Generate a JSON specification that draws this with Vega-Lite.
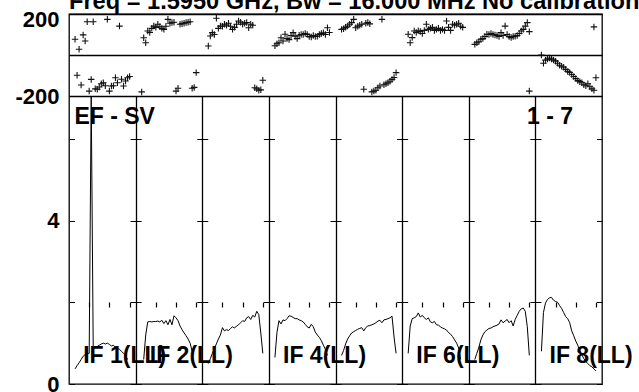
{
  "$schema": "https://vega.github.io/schema/vega-lite/v6.json",
  "background": "white",
  "padding": {"left": 14, "top": -10, "right": 0, "bottom": 0},
  "title": {"text": "Freq = 1.5950 GHz, Bw = 16.000 MHz  No calibration", "anchor": "start", "frame": "group", "font": "Liberation Sans", "fontSize": 23.6, "fontWeight": "bold", "color": "black", "offset": -6},
  "width": 533,
  "height": 370,
  "datasets": {
    "phase": [
      {"x":3,"ph":77},{"x":4,"ph":-99},{"x":5,"ph":28},{"x":6,"ph":-146},{"x":7,"ph":98},{"x":8,"ph":68},{"x":9,"ph":162},{"x":10,"ph":-176},{"x":11,"ph":-119},{"x":12,"ph":162},{"x":13,"ph":-165},{"x":14,"ph":-167},{"x":15,"ph":-156},{"x":16,"ph":-140},{"x":17,"ph":-135},{"x":18,"ph":-150},{"x":19,"ph":174},{"x":20,"ph":-176},{"x":21,"ph":-151},{"x":22,"ph":-150},{"x":23,"ph":-111},{"x":24,"ph":-135},{"x":25,"ph":141},{"x":26,"ph":-118},{"x":27,"ph":-151},{"x":28,"ph":-127},{"x":29,"ph":-111},{"x":30,"ph":-105},
      {"x":36,"ph":-180},{"x":37,"ph":84},{"x":38,"ph":60},{"x":39,"ph":117},{"x":40,"ph":110},{"x":41,"ph":130},{"x":42,"ph":141},{"x":43,"ph":135},{"x":44,"ph":150},{"x":45,"ph":138},{"x":46,"ph":130},{"x":47,"ph":125},{"x":48,"ph":140},{"x":49,"ph":174},{"x":50,"ph":155},{"x":51,"ph":158},{"x":52,"ph":160},{"x":53,"ph":-176},{"x":54,"ph":-162},{"x":55,"ph":150},{"x":56,"ph":153},{"x":57,"ph":155},{"x":58,"ph":158},{"x":59,"ph":160},{"x":60,"ph":162},{"x":61,"ph":-162},{"x":62,"ph":-158},{"x":63,"ph":-86},
      {"x":69,"ph":44},{"x":70,"ph":93},{"x":71,"ph":109},{"x":72,"ph":100},{"x":73,"ph":179},{"x":74,"ph":130},{"x":75,"ph":141},{"x":76,"ph":140},{"x":77,"ph":150},{"x":78,"ph":145},{"x":79,"ph":155},{"x":80,"ph":140},{"x":81,"ph":125},{"x":82,"ph":135},{"x":83,"ph":150},{"x":84,"ph":166},{"x":85,"ph":160},{"x":86,"ph":150},{"x":87,"ph":155},{"x":88,"ph":158},{"x":89,"ph":133},{"x":90,"ph":150},{"x":91,"ph":145},{"x":92,"ph":-160},{"x":93,"ph":-165},{"x":94,"ph":-172},{"x":95,"ph":-170},{"x":96,"ph":-123},
      {"x":102,"ph":45},{"x":103,"ph":55},{"x":104,"ph":60},{"x":105,"ph":84},{"x":106,"ph":68},{"x":107,"ph":101},{"x":108,"ph":80},{"x":109,"ph":75},{"x":110,"ph":95},{"x":111,"ph":109},{"x":112,"ph":92},{"x":113,"ph":80},{"x":114,"ph":96},{"x":115,"ph":100},{"x":116,"ph":100},{"x":117,"ph":105},{"x":118,"ph":100},{"x":119,"ph":90},{"x":120,"ph":88},{"x":121,"ph":95},{"x":122,"ph":90},{"x":123,"ph":92},{"x":124,"ph":100},{"x":125,"ph":105},{"x":126,"ph":108},{"x":127,"ph":100},{"x":128,"ph":133},{"x":129,"ph":110},
      {"x":135,"ph":125},{"x":136,"ph":128},{"x":137,"ph":135},{"x":138,"ph":141},{"x":139,"ph":150},{"x":140,"ph":158},{"x":141,"ph":174},{"x":142,"ph":133},{"x":143,"ph":140},{"x":144,"ph":145},{"x":145,"ph":150},{"x":146,"ph":-167},{"x":147,"ph":155},{"x":148,"ph":158},{"x":149,"ph":152},{"x":150,"ph":-180},{"x":151,"ph":-176},{"x":152,"ph":-172},{"x":153,"ph":-160},{"x":154,"ph":-151},{"x":155,"ph":174},{"x":156,"ph":-145},{"x":157,"ph":-140},{"x":158,"ph":-135},{"x":159,"ph":-128},{"x":160,"ph":-119},{"x":161,"ph":-110},{"x":162,"ph":-86},
      {"x":168,"ph":101},{"x":169,"ph":60},{"x":170,"ph":85},{"x":171,"ph":117},{"x":172,"ph":110},{"x":173,"ph":118},{"x":174,"ph":115},{"x":175,"ph":105},{"x":176,"ph":120},{"x":177,"ph":150},{"x":178,"ph":125},{"x":179,"ph":130},{"x":180,"ph":135},{"x":181,"ph":120},{"x":182,"ph":125},{"x":183,"ph":130},{"x":184,"ph":120},{"x":185,"ph":125},{"x":186,"ph":120},{"x":187,"ph":166},{"x":188,"ph":135},{"x":189,"ph":120},{"x":190,"ph":150},{"x":191,"ph":145},{"x":192,"ph":150},{"x":193,"ph":155},{"x":194,"ph":140},{"x":195,"ph":135},
      {"x":201,"ph":52},{"x":202,"ph":60},{"x":203,"ph":65},{"x":204,"ph":77},{"x":205,"ph":80},{"x":206,"ph":90},{"x":207,"ph":101},{"x":208,"ph":100},{"x":209,"ph":105},{"x":210,"ph":100},{"x":211,"ph":98},{"x":212,"ph":95},{"x":213,"ph":90},{"x":214,"ph":109},{"x":215,"ph":95},{"x":216,"ph":141},{"x":217,"ph":100},{"x":218,"ph":90},{"x":219,"ph":85},{"x":220,"ph":90},{"x":221,"ph":92},{"x":222,"ph":95},{"x":223,"ph":105},{"x":224,"ph":117},{"x":225,"ph":125},{"x":226,"ph":141},{"x":227,"ph":158},{"x":228,"ph":114},{"x":228,"ph":-176},
      {"x":234,"ph":0},{"x":235,"ph":-40},{"x":236,"ph":-25},{"x":237,"ph":-20},{"x":238,"ph":-15},{"x":239,"ph":-20},{"x":240,"ph":-25},{"x":241,"ph":-30},{"x":242,"ph":-40},{"x":243,"ph":-50},{"x":244,"ph":-55},{"x":245,"ph":-60},{"x":246,"ph":-70},{"x":247,"ph":-80},{"x":248,"ph":-85},{"x":249,"ph":-95},{"x":250,"ph":-105},{"x":251,"ph":-115},{"x":252,"ph":-125},{"x":253,"ph":-130},{"x":254,"ph":-135},{"x":255,"ph":-145},{"x":256,"ph":-150},{"x":257,"ph":-140},{"x":258,"ph":-155},{"x":259,"ph":-165},{"x":260,"ph":-172},{"x":260,"ph":137},{"x":261,"ph":-111}
    ],
    "amp": [
      {"band":1,"x":3,"v":0.37},{"band":1,"x":4,"v":0.45},{"band":1,"x":5,"v":0.52},{"band":1,"x":6,"v":0.6},{"band":1,"x":7,"v":0.68},{"band":1,"x":8,"v":0.72},{"band":1,"x":9,"v":0.75},{"band":1,"x":10,"v":0.75},{"band":1,"x":11,"v":12},{"band":1,"x":12,"v":0.85},{"band":1,"x":13,"v":0.9},{"band":1,"x":14,"v":0.92},{"band":1,"x":15,"v":0.95},{"band":1,"x":16,"v":0.98},{"band":1,"x":17,"v":1.0},{"band":1,"x":18,"v":0.98},{"band":1,"x":19,"v":1.0},{"band":1,"x":20,"v":0.97},{"band":1,"x":21,"v":0.93},{"band":1,"x":22,"v":0.95},{"band":1,"x":23,"v":0.9},{"band":1,"x":24,"v":0.87},{"band":1,"x":25,"v":0.85},{"band":1,"x":26,"v":0.8},{"band":1,"x":27,"v":0.75},{"band":1,"x":28,"v":0.7},{"band":1,"x":29,"v":0.6},
      {"band":2,"x":37,"v":0.6},{"band":2,"x":38,"v":1.2},{"band":2,"x":39,"v":1.52},{"band":2,"x":40,"v":1.53},{"band":2,"x":41,"v":1.52},{"band":2,"x":42,"v":1.53},{"band":2,"x":43,"v":1.53},{"band":2,"x":44,"v":1.54},{"band":2,"x":45,"v":1.52},{"band":2,"x":46,"v":1.56},{"band":2,"x":47,"v":1.48},{"band":2,"x":48,"v":1.55},{"band":2,"x":49,"v":1.45},{"band":2,"x":50,"v":1.58},{"band":2,"x":51,"v":1.45},{"band":2,"x":52,"v":1.67},{"band":2,"x":53,"v":1.62},{"band":2,"x":54,"v":1.55},{"band":2,"x":55,"v":1.42},{"band":2,"x":56,"v":1.33},{"band":2,"x":57,"v":1.25},{"band":2,"x":58,"v":1.18},{"band":2,"x":59,"v":1.1},{"band":2,"x":60,"v":1.0},{"band":2,"x":61,"v":0.8},
      {"band":3,"x":69,"v":0.5},{"band":3,"x":70,"v":0.62},{"band":3,"x":71,"v":0.75},{"band":3,"x":72,"v":0.87},{"band":3,"x":73,"v":0.98},{"band":3,"x":74,"v":1.1},{"band":3,"x":75,"v":1.2},{"band":3,"x":76,"v":1.38},{"band":3,"x":77,"v":1.3},{"band":3,"x":78,"v":1.33},{"band":3,"x":79,"v":1.31},{"band":3,"x":80,"v":1.36},{"band":3,"x":81,"v":1.4},{"band":3,"x":82,"v":1.37},{"band":3,"x":83,"v":1.42},{"band":3,"x":84,"v":1.45},{"band":3,"x":85,"v":1.5},{"band":3,"x":86,"v":1.55},{"band":3,"x":87,"v":1.53},{"band":3,"x":88,"v":1.62},{"band":3,"x":89,"v":1.65},{"band":3,"x":90,"v":1.58},{"band":3,"x":91,"v":1.68},{"band":3,"x":92,"v":1.64},{"band":3,"x":93,"v":1.78},{"band":3,"x":94,"v":1.7},{"band":3,"x":95,"v":1.25},{"band":3,"x":96,"v":0.75},
      {"band":4,"x":102,"v":0.65},{"band":4,"x":103,"v":1.26},{"band":4,"x":104,"v":1.55},{"band":4,"x":105,"v":1.47},{"band":4,"x":106,"v":1.57},{"band":4,"x":107,"v":1.55},{"band":4,"x":108,"v":1.6},{"band":4,"x":109,"v":1.67},{"band":4,"x":110,"v":1.66},{"band":4,"x":111,"v":1.63},{"band":4,"x":112,"v":1.6},{"band":4,"x":113,"v":1.6},{"band":4,"x":114,"v":1.57},{"band":4,"x":115,"v":1.55},{"band":4,"x":116,"v":1.52},{"band":4,"x":117,"v":1.46},{"band":4,"x":118,"v":1.4},{"band":4,"x":119,"v":1.37},{"band":4,"x":120,"v":1.46},{"band":4,"x":121,"v":1.4},{"band":4,"x":122,"v":1.27},{"band":4,"x":123,"v":1.2},{"band":4,"x":124,"v":1.14},{"band":4,"x":125,"v":1.06},{"band":4,"x":126,"v":0.95},{"band":4,"x":127,"v":0.85},{"band":4,"x":128,"v":0.7},
      {"band":5,"x":135,"v":0.7},{"band":5,"x":136,"v":0.82},{"band":5,"x":137,"v":0.98},{"band":5,"x":138,"v":1.1},{"band":5,"x":139,"v":1.18},{"band":5,"x":140,"v":1.25},{"band":5,"x":141,"v":1.28},{"band":5,"x":142,"v":1.31},{"band":5,"x":143,"v":1.34},{"band":5,"x":144,"v":1.36},{"band":5,"x":145,"v":1.38},{"band":5,"x":146,"v":1.3},{"band":5,"x":147,"v":1.38},{"band":5,"x":148,"v":1.42},{"band":5,"x":149,"v":1.43},{"band":5,"x":150,"v":1.45},{"band":5,"x":151,"v":1.47},{"band":5,"x":152,"v":1.5},{"band":5,"x":153,"v":1.54},{"band":5,"x":154,"v":1.56},{"band":5,"x":155,"v":1.5},{"band":5,"x":156,"v":1.57},{"band":5,"x":157,"v":1.58},{"band":5,"x":158,"v":1.6},{"band":5,"x":159,"v":1.62},{"band":5,"x":160,"v":1.66},{"band":5,"x":161,"v":1.15},{"band":5,"x":162,"v":0.75},
      {"band":6,"x":168,"v":0.75},{"band":6,"x":169,"v":1.42},{"band":6,"x":170,"v":1.6},{"band":6,"x":171,"v":1.62},{"band":6,"x":172,"v":1.65},{"band":6,"x":173,"v":1.74},{"band":6,"x":174,"v":1.64},{"band":6,"x":175,"v":1.68},{"band":6,"x":176,"v":1.62},{"band":6,"x":177,"v":1.58},{"band":6,"x":178,"v":1.62},{"band":6,"x":179,"v":1.52},{"band":6,"x":180,"v":1.5},{"band":6,"x":181,"v":1.53},{"band":6,"x":182,"v":1.45},{"band":6,"x":183,"v":1.44},{"band":6,"x":184,"v":1.4},{"band":6,"x":185,"v":1.37},{"band":6,"x":186,"v":1.35},{"band":6,"x":187,"v":1.32},{"band":6,"x":188,"v":1.26},{"band":6,"x":189,"v":1.22},{"band":6,"x":190,"v":1.16},{"band":6,"x":191,"v":1.08},{"band":6,"x":192,"v":1.0},{"band":6,"x":193,"v":0.88},{"band":6,"x":194,"v":0.6},
      {"band":7,"x":201,"v":0.6},{"band":7,"x":202,"v":0.75},{"band":7,"x":203,"v":0.9},{"band":7,"x":204,"v":1.08},{"band":7,"x":205,"v":1.2},{"band":7,"x":206,"v":1.28},{"band":7,"x":207,"v":1.32},{"band":7,"x":208,"v":1.36},{"band":7,"x":209,"v":1.37},{"band":7,"x":210,"v":1.4},{"band":7,"x":211,"v":1.42},{"band":7,"x":212,"v":1.44},{"band":7,"x":213,"v":1.47},{"band":7,"x":214,"v":1.57},{"band":7,"x":215,"v":1.5},{"band":7,"x":216,"v":1.54},{"band":7,"x":217,"v":1.58},{"band":7,"x":218,"v":1.5},{"band":7,"x":219,"v":1.55},{"band":7,"x":220,"v":1.42},{"band":7,"x":221,"v":1.58},{"band":7,"x":222,"v":1.68},{"band":7,"x":223,"v":1.78},{"band":7,"x":224,"v":1.84},{"band":7,"x":225,"v":1.86},{"band":7,"x":226,"v":1.78},{"band":7,"x":227,"v":1.4},{"band":7,"x":228,"v":0.7},
      {"band":8,"x":234,"v":0.8},{"band":8,"x":235,"v":1.75},{"band":8,"x":236,"v":1.98},{"band":8,"x":237,"v":2.07},{"band":8,"x":238,"v":2.11},{"band":8,"x":239,"v":2.12},{"band":8,"x":240,"v":2.05},{"band":8,"x":241,"v":2.02},{"band":8,"x":242,"v":2.0},{"band":8,"x":243,"v":1.92},{"band":8,"x":244,"v":1.85},{"band":8,"x":245,"v":1.75},{"band":8,"x":246,"v":1.65},{"band":8,"x":247,"v":1.6},{"band":8,"x":248,"v":1.5},{"band":8,"x":249,"v":1.3},{"band":8,"x":250,"v":1.18},{"band":8,"x":251,"v":1.05},{"band":8,"x":252,"v":0.95},{"band":8,"x":253,"v":0.8},{"band":8,"x":254,"v":0.72},{"band":8,"x":255,"v":0.62},{"band":8,"x":256,"v":0.55},{"band":8,"x":257,"v":0.5},{"band":8,"x":258,"v":0.45},{"band":8,"x":259,"v":0.42},{"band":8,"x":260,"v":0.37},{"band":8,"x":261,"v":0.32}
    ],
    "labels": [
      {"x":7,"v":0.505,"label":"IF 1(LL)"},
      {"x":40,"v":0.505,"label":"IF 2(LL)"},
      {"x":106,"v":0.505,"label":"IF 4(LL)"},
      {"x":172,"v":0.505,"label":"IF 6(LL)"},
      {"x":238,"v":0.505,"label":"IF 8(LL)"},
      {"x":2.7,"v":6.36,"label":"EF - SV"},
      {"x":226.9,"v":6.36,"label":"1 - 7"}
    ]
  },
  "layer": [
    {
      "data": {"name": "phase"},
      "mark": {"type": "point", "shape": "M-1,0L1,0M0,-1L0,1", "filled": false, "stroke": "#111", "strokeWidth": 1.1, "size": 42, "opacity": 1},
      "encoding": {
        "x": {"field": "x", "type": "quantitative", "scale": {"domain": [0, 264], "nice": false, "zero": false},
              "axis": {"values": [10,20,30,43,53,63,76,86,96,109,119,129,142,152,162,175,185,195,208,218,228,241,251,261], "grid": true, "gridDash": [5, 278, 10, 72, 5, 1000], "gridColor": "black", "gridWidth": 1.2, "gridOpacity": 1, "ticks": false, "labels": false, "domain": false, "title": null}},
        "y": {"field": "ph", "type": "quantitative", "scale": {"domain": [-200, 200], "range": [82, 0], "nice": false, "zero": false},
              "axis": {"orient": "left", "values": [-200, 0, 200], "labelExpr": "datum.value == 200 ? '200' : (datum.value == -200 ? '-200' : '')", "labelOverlap": false, "grid": true, "gridColor": "black", "gridWidth": 1.3, "gridOpacity": 1, "ticks": false, "domain": false, "title": null, "labelPadding": 10, "labelOffset": {"condition": {"test": "datum.value == 200", "value": 5}, "value": 0}}}
      }
    },
    {
      "data": {"name": "amp"},
      "mark": {"type": "line", "color": "black", "strokeWidth": 1},
      "encoding": {
        "x": {"field": "x", "type": "quantitative",
              "axis": {"values": [33, 66, 99, 132, 165, 198, 231], "grid": true, "gridColor": "black", "gridWidth": 1.3, "gridOpacity": 1, "ticks": false, "labels": false, "domain": false, "title": null}},
        "y": {"field": "v", "type": "quantitative", "scale": {"domain": [0, 7.05], "range": [370, 82], "nice": false, "clamp": true},
              "axis": {"orient": "left", "values": [0, 2, 4, 6], "labelExpr": "datum.value == 0 ? '0' : (datum.value == 4 ? '4' : '')", "labelOverlap": false, "grid": true, "gridDash": [5.5, 55.625, 11, 55.625, 11, 55.625, 11, 55.625, 11, 55.625, 11, 55.625, 11, 55.625, 11, 55.625, 5.5, 100], "gridColor": "black", "gridWidth": 1.2, "gridOpacity": 1, "ticks": false, "domain": false, "title": null, "labelPadding": 10}},
        "detail": {"field": "band", "type": "nominal"}
      }
    },
    {
      "data": {"name": "labels"},
      "mark": {"type": "text", "align": "left", "baseline": "alphabetic", "font": "Liberation Sans", "fontSize": 23, "fontWeight": "bold", "color": "black"},
      "encoding": {
        "x": {"field": "x", "type": "quantitative", "axis": null},
        "y": {"field": "v", "type": "quantitative", "scale": {"domain": [0, 7.05], "range": [370, 82], "nice": false}, "axis": null},
        "text": {"field": "label"}
      }
    }
  ],
  "resolve": {"scale": {"y": "independent"}, "axis": {"x": "independent", "y": "independent"}},
  "config": {
    "view": {"stroke": "black", "strokeWidth": 1.3},
    "axis": {"labelFont": "Liberation Sans", "labelFontSize": 22, "labelFontWeight": "bold", "labelColor": "black", "labelBound": false}
  }
}
